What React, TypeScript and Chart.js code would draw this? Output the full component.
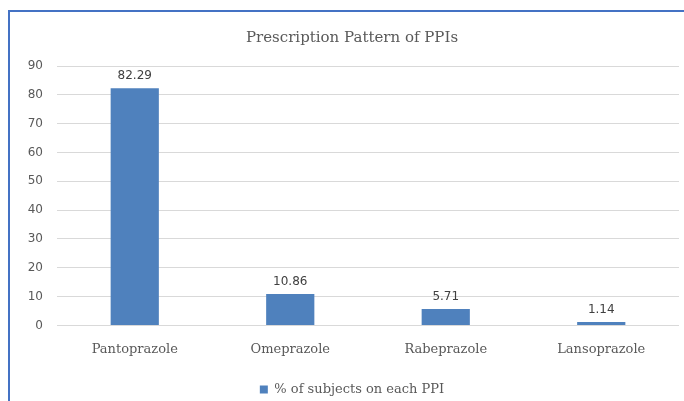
import React, { useEffect, useRef } from "react";
import { Chart, registerables } from "chart.js";

Chart.register(...registerables);

const categories = ["Pantoprazole", "Omeprazole", "Rabeprazole", "Lansoprazole"];
const seriesLabel = "% of subjects on each PPI";
const values = [82.29, 10.86, 5.71, 1.14];
const yTicks = [0, 10, 20, 30, 40, 50, 60, 70, 80, 90];
const titleText = "Prescription Pattern of PPIs";

const BAR = "#4f81bd";
const TEXT = "#595959";
const SERIF = "'DejaVu Serif', serif";
const SANS = "'DejaVu Sans', sans-serif";

const valueLabels = {
  id: "valueLabels",
  afterDatasetsDraw(chart: any) {
    const ctx = chart.ctx;
    const meta = chart.getDatasetMeta(0);
    ctx.save();
    ctx.font = `12px ${SANS}`;
    ctx.fillStyle = "#404040";
    ctx.textAlign = "center";
    ctx.textBaseline = "alphabetic";
    meta.data.forEach((bar: any, i: number) => {
      ctx.fillText(values[i].toFixed(2), bar.x, bar.y - 9);
    });
    ctx.restore();
  },
};

export default function App() {
  const ref = useRef<HTMLCanvasElement | null>(null);
  useEffect(() => {
    document.body.style.margin = "0";
    const chart = new Chart(ref.current!, {
      type: "bar",
      data: {
        labels: categories,
        datasets: [
          {
            label: seriesLabel,
            data: values,
            backgroundColor: BAR,
            borderWidth: 0,
            barPercentage: 0.62,
            categoryPercentage: 0.5,
          },
        ],
      },
      options: {
        responsive: false,
        animation: false,
        layout: { padding: { left: 0, right: 0, top: 0, bottom: 6 } },
        plugins: {
          title: {
            display: true,
            text: titleText,
            color: TEXT,
            font: { family: SERIF, size: 15, weight: "normal" },
            padding: { top: 18, bottom: 19 },
          },
          legend: {
            position: "bottom",
            labels: {
              color: TEXT,
              font: { family: SERIF, size: 13 },
              boxWidth: 8,
              boxHeight: 8,
              padding: 10,
            },
          },
          tooltip: { enabled: false },
        },
        scales: {
          x: {
            grid: { display: false, drawTicks: false },
            border: { display: false },
            ticks: { color: TEXT, font: { family: SERIF, size: 13 }, padding: 16 },
          },
          y: {
            min: 0,
            max: 90,
            afterFit(scale: any) {
              scale.width = 48;
            },
            afterBuildTicks(scale: any) {
              scale.ticks = yTicks.map((v) => ({ value: v }));
            },
            grid: { color: "#d9d9d9", drawTicks: false },
            border: { display: false },
            ticks: { color: TEXT, font: { family: SANS, size: 12 }, padding: 14 },
          },
          yRight: {
            type: "linear",
            position: "right",
            display: true,
            min: 0,
            max: 90,
            afterFit(scale: any) {
              scale.width = 16;
            },
            grid: { display: false, drawTicks: false },
            border: { display: false },
            ticks: { display: false },
          },
        },
      },
      plugins: [valueLabels],
    });
    return () => chart.destroy();
  }, []);
  return (
    <div style={{ position: "relative", width: 684, height: 401, overflow: "hidden", background: "#fff" }}>
      <div
        style={{
          position: "absolute",
          left: 8,
          top: 10,
          width: 700,
          height: 420,
          borderLeft: "2px solid #4472c4",
          borderTop: "2px solid #4472c4",
          boxSizing: "border-box",
        }}
      />
      <canvas
        ref={ref}
        width={686}
        height={401}
        style={{ position: "absolute", left: 9, top: 11, width: 686, height: 401 }}
      />
    </div>
  );
}
